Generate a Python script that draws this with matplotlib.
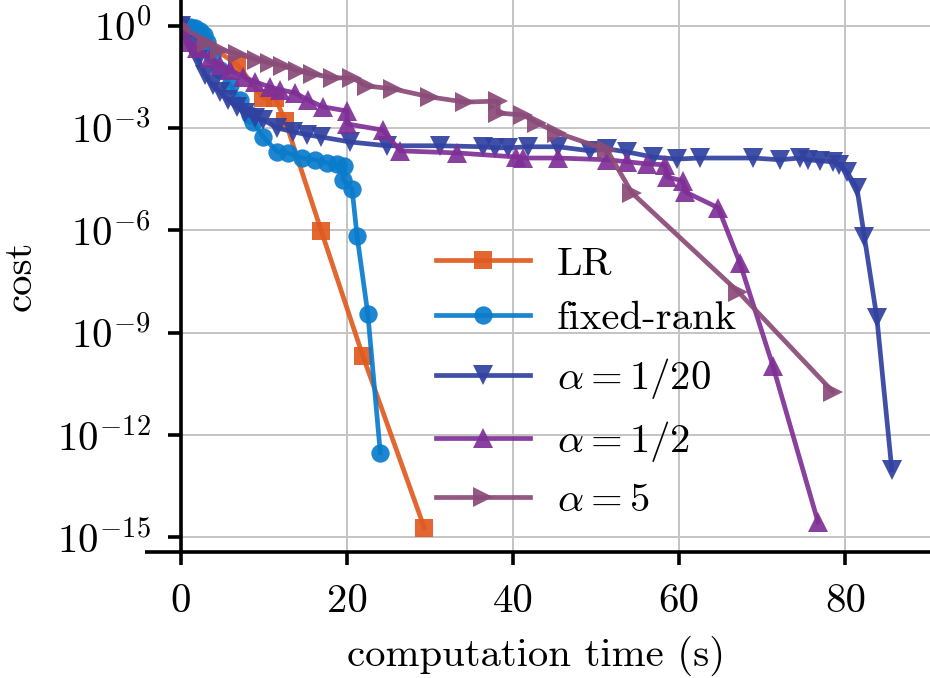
import numpy as np
import matplotlib
matplotlib.use("Agg")
import matplotlib.pyplot as plt
from matplotlib import ticker

plt.rcParams['font.family'] = 'serif'
plt.rcParams['font.serif'] = ['cmr10']
plt.rcParams['mathtext.fontset'] = 'cm'
plt.rcParams['axes.unicode_minus'] = False

# ---- data (time in s, log10 of cost) ----
lr_t = [0, 6.8, 9.9, 11.35, 12.55, 16.9, 21.9, 29.3]
lr_c = [0, -1.15, -2.12, -2.12, -2.79, -6.02, -9.68, -14.72]

fr_t = [0, 0.52, 1.12, 1.72, 2.32, 2.8, 3.16, 3.77, 4.73, 5.93, 7.13, 8.34, 8.7, 9.9,
        11.6, 12.9, 14.6, 16.1, 17.6, 18.8, 19.65, 19.5, 20.6, 21.2, 22.5, 24.0]
fr_c = [0, -0.04, -0.04, -0.07, -0.16, -0.27, -0.48, -0.86, -1.30, -1.74, -2.18, -2.62, -2.82, -3.26,
        -3.70, -3.73, -3.88, -3.93, -4.02, -4.05, -4.11, -4.52, -4.78, -6.16, -8.45, -12.52]

a20_t = [0, 1.1, 2.1, 2.9, 3.8, 4.7, 5.7, 6.7, 7.7, 8.9, 9.9, 11.6, 13.5, 15.2, 16.8, 20.4,
         24.8, 31.2, 36.4, 37.8, 39.4, 41.8, 45.4, 49.3, 51.3, 53.7, 56.8, 59.7, 62.5, 68.9,
         72.1, 74.5, 75.5, 76.9, 78.5, 79.3, 80.2, 81.4, 82.3, 83.8, 85.6]
a20_c = [0, -0.57, -1.0, -1.44, -1.74, -1.94, -2.18, -2.38, -2.56, -2.70, -2.76, -3.0, -3.11, -3.2, -3.26, -3.41,
         -3.52, -3.52, -3.55, -3.58, -3.58, -3.55, -3.55, -3.67, -3.61, -3.70, -3.85, -3.91, -3.88, -3.88,
         -3.93, -3.88, -3.93, -3.96, -3.99, -4.08, -4.29, -4.76, -6.19, -8.56, -13.02]

a2_t = [0, 0.76, 1.96, 3.53, 4.73, 5.93, 7.5, 8.94, 10.75, 11.95, 13.75, 15.3, 17.1, 20.0, 20.0,
        24.3, 26.4, 33.2, 40.4, 41.2, 45.4, 51.3, 53.7, 56.1, 58.3, 58.5, 60.4, 60.7, 64.7,
        67.3, 71.3, 76.7]
a2_c = [0, -0.47, -0.65, -0.95, -1.15, -1.30, -1.50, -1.65, -1.80, -1.88, -1.97, -2.18, -2.38, -2.50, -2.88,
        -3.06, -3.67, -3.73, -3.85, -3.88, -3.88, -3.93, -3.99, -4.05, -4.08, -4.43, -4.55, -4.87, -5.34,
        -6.95, -9.99, -14.54]

a5_t = [0, 3.16, 4.73, 6.9, 9.2, 10.75, 12.3, 14.1, 15.9, 18.3, 20.6, 22.4, 25.5, 30.0, 34.2,
        38.2, 38.2, 41.2, 42.9, 45.3, 51.3, 54.3, 67.1, 78.5]
a5_c = [0, -0.51, -0.71, -0.83, -1.0, -1.09, -1.18, -1.33, -1.42, -1.53, -1.53, -1.77, -1.85, -2.09, -2.24,
        -2.21, -2.56, -2.62, -2.85, -3.14, -3.64, -4.90, -7.80, -10.73]

labels = ['LR', 'fixed-rank', r'$\alpha = 1/20$', r'$\alpha = 1/2$', r'$\alpha = 5$']
colors = ['#e05a1e', '#0a7ccc', '#3141a0', '#7f2f96', '#8a4b78']
markers = ['s', 'o', 'v', '^', '>']
msizes = [6.2, 6.6, 7.4, 7.4, 7.4]

yticks_exp = [0, -3, -6, -9, -12, -15]
xticks = [0, 20, 40, 60, 80]

fig = plt.figure(figsize=(4.65, 3.39), dpi=200)
ax = fig.add_axes([181/930, 1 - 552/678, 749/930, 552/678])

series = [(lr_t, lr_c), (fr_t, fr_c), (a20_t, a20_c), (a2_t, a2_c), (a5_t, a5_c)]
for (t, c), lab, col, mk, ms in zip(series, labels, colors, markers, msizes):
    ax.plot(t, 10.0 ** np.array(c), color=col, marker=mk, markersize=ms, lw=1.7,
            label=lab, alpha=0.92, markeredgewidth=0)

ax.set_yscale('log')
ax.set_xlim(0, 90.2)
ax.set_ylim(10 ** -15.43, 10 ** 0.753)
ax.yaxis.set_major_locator(ticker.FixedLocator([10.0 ** e for e in yticks_exp]))
ax.yaxis.set_minor_locator(ticker.NullLocator())
ax.yaxis.set_major_formatter(ticker.FuncFormatter(
    lambda v, p: r'$10^{%d}$' % int(round(np.log10(v)))))
ax.set_xticks(xticks)
ax.set_xticklabels([str(v) for v in xticks])

for s in ['top', 'right']:
    ax.spines[s].set_visible(False)
for s in ['left', 'bottom']:
    ax.spines[s].set_linewidth(1.3)
# extension of bottom axis line to the left
ax.plot([-36/749, 0], [0, 0], transform=ax.transAxes, color='k', lw=1.3,
        clip_on=False, solid_capstyle='butt')

ax.grid(True, color='#c4c4c4', lw=0.7)
ax.set_axisbelow(True)
ax.tick_params(axis='both', length=4.7, width=1.3, labelsize=14.7, pad=6, colors='k')
ax.tick_params(axis='x', pad=7)

ax.set_xlabel('computation time (s)', fontsize=14.7)
ax.set_ylabel('cost', fontsize=14.7)
ax.xaxis.set_label_coords((536 - 181) / 749, -0.152)
ax.yaxis.set_label_coords(-0.19, 0.5)

ax.legend(loc='upper left', bbox_to_anchor=(0.291, 0.621), frameon=False,
          fontsize=14.7, handlelength=2.3, handletextpad=0.66, labelspacing=0.45,
          borderpad=0.4, numpoints=1)

fig.savefig('out.png', dpi=200)
